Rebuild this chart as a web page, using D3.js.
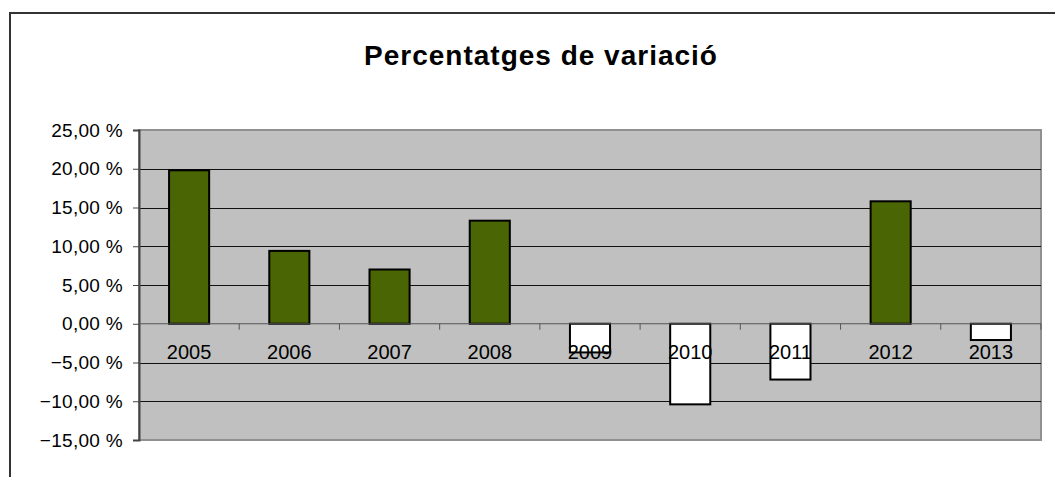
<!DOCTYPE html>
<html lang="ca">
<head>
<meta charset="UTF-8"/>
<title>Percentatges de variació</title>
<script src="https://d3js.org/d3.v7.min.js"></script>
<style>
	body { margin: 0; background: #fff; }
	text { font-family: "Liberation Sans", Arial, sans-serif; fill: #000; }
</style>
</head>
<body>
<script>
	var years = ["2005","2006","2007","2008","2009","2010","2011","2012","2013"];
	var values = [19.8, 9.4, 7.0, 13.3, -3.7, -10.4, -7.2, 15.8, -2.1];
	var yTicks = [25, 20, 15, 10, 5, 0, -5, -10, -15];

	var w = 1055, h = 477;
	var plotLeft = 139, plotRight = 1041, plotTop = 130, plotBottom = 440;

	var svg = d3.select("body").append("svg").attr("width", w).attr("height", h);

	// outer frame
	svg.append("rect")
		.attr("x", 10).attr("y", 13)
		.attr("width", 1200).attr("height", 600)
		.attr("fill", "none").attr("stroke", "#333").attr("stroke-width", 2);

	svg.append("text")
		.attr("x", 541).attr("y", 65)
		.attr("text-anchor", "middle")
		.attr("font-size", "28px").attr("font-weight", "bold")
		.attr("letter-spacing", "1px")
		.text("Percentatges de variació");

	var xScale = d3.scaleBand().domain(years).range([plotLeft, plotRight]).paddingInner(0.6).paddingOuter(0.3);
	var xOuter = d3.scaleBand().domain(years).range([plotLeft, plotRight]);
	var yScale = d3.scaleLinear().domain([-15, 25]).range([plotBottom, plotTop]);

	// plot area
	svg.append("rect")
		.attr("x", plotLeft).attr("y", plotTop)
		.attr("width", plotRight - plotLeft).attr("height", plotBottom - plotTop)
		.attr("fill", "#c0c0c0").attr("stroke", "#909090").attr("stroke-width", 2);

	// gridlines
	svg.selectAll("line.grid").data(yTicks.filter(function(d){ return d != 0 && d != 25 && d != -15; }))
		.enter().append("line").attr("class", "grid")
		.attr("x1", plotLeft).attr("x2", plotRight)
		.attr("y1", function(d){ return Math.round(yScale(d)) + 0.5; })
		.attr("y2", function(d){ return Math.round(yScale(d)) + 0.5; })
		.attr("stroke", "#111").attr("stroke-width", 1);

	// y axis
	var yAxis = d3.axisLeft(yScale).tickValues(yTicks).tickSize(6).tickPadding(10)
		.tickFormat(function(d){ return d3.format(".2f")(d).replace(".", ",") + " %"; });
	var gy = svg.append("g").attr("transform", "translate(" + plotLeft + ",0)").call(yAxis);
	gy.select(".domain").attr("stroke", "#444").attr("stroke-width", 2);
	gy.selectAll(".tick line").attr("stroke", "#444");
	gy.selectAll("text").attr("font-size", "19px").attr("letter-spacing", "0.3px")
		.attr("font-family", "Liberation Sans, Arial, sans-serif");

	// bars
	svg.selectAll("rect.bar").data(values).enter().append("rect").attr("class", "bar")
		.attr("x", function(d, i){ return xScale(years[i]); })
		.attr("width", xScale.bandwidth())
		.attr("y", function(d){ return yScale(Math.max(0, d)); })
		.attr("height", function(d){ return Math.abs(yScale(d) - yScale(0)); })
		.attr("fill", function(d){ return d >= 0 ? "#4a6604" : "#ffffff"; })
		.attr("stroke", "#000").attr("stroke-width", 2);

	// zero axis with ticks at category boundaries
	var y0 = yScale(0);
	svg.append("line")
		.attr("x1", plotLeft).attr("x2", plotRight).attr("y1", y0).attr("y2", y0)
		.attr("stroke", "#555").attr("stroke-width", 1);
	svg.selectAll("line.xtick").data(years.slice(1).concat(["end"]))
		.enter().append("line").attr("class", "xtick")
		.attr("x1", function(d){ return d == "end" ? plotRight : xOuter(d); })
		.attr("x2", function(d){ return d == "end" ? plotRight : xOuter(d); })
		.attr("y1", y0).attr("y2", y0 + 6)
		.attr("stroke", "#555");

	svg.selectAll("text.cat").data(years).enter().append("text").attr("class", "cat")
		.attr("x", function(d){ return xOuter(d) + xOuter.bandwidth() / 2; })
		.attr("y", y0 + 35)
		.attr("text-anchor", "middle")
		.attr("font-size", "20px")
		.text(function(d){ return d; });
</script>
</body>
</html>
